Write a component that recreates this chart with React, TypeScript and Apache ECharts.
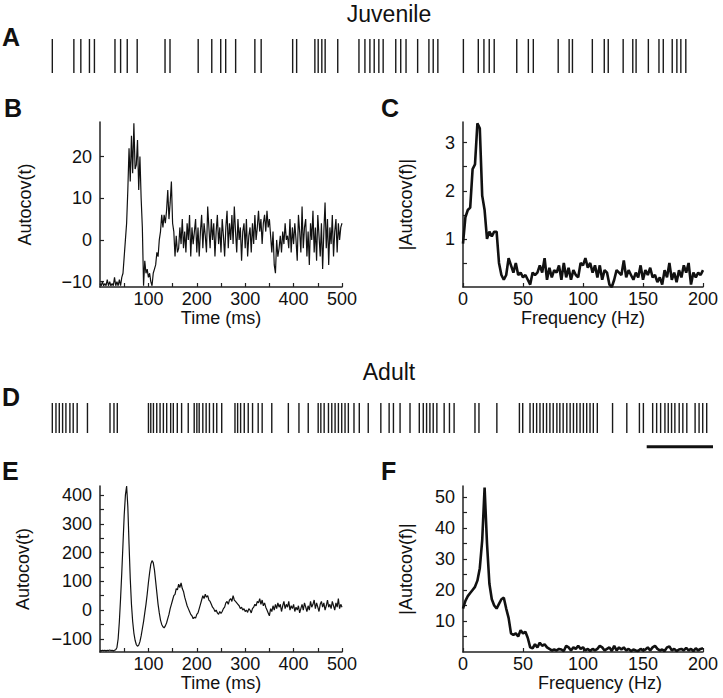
import React, { useEffect, useRef } from "react";
import * as echarts from "echarts";

// Spike times (ms) of the two example trains, shown as rasters
const spikesJuvenile = [
  7, 72, 93, 119, 134, 196, 213, 233, 263, 347, 362, 447, 488, 515, 530, 560,
  618, 637, 732, 744, 799, 809, 820, 830, 868, 932, 950, 965, 978, 992, 1005,
  1043, 1058, 1074, 1109, 1143, 1156, 1170, 1247, 1292, 1309, 1325, 1340, 1408,
  1443, 1458, 1533, 1566, 1576, 1636, 1672, 1684, 1729, 1758, 1768, 1805, 1837,
  1850, 1877, 1891, 1903, 1918,
];
const spikesAdult = [
  7, 18, 28, 38, 48, 60, 70, 82, 113, 181, 193, 203, 297, 304, 312, 322, 332,
  342, 352, 364, 372, 384, 397, 417, 435, 443, 450, 461, 471, 481, 493, 503,
  518, 558, 566, 575, 586, 598, 611, 628, 640, 669, 719, 751, 779, 809, 817,
  827, 840, 850, 860, 870, 880, 890, 900, 917, 933, 960, 998, 1023, 1036, 1056,
  1086, 1114, 1126, 1136, 1146, 1156, 1167, 1189, 1205, 1219, 1282, 1294, 1348,
  1416, 1426, 1448, 1458, 1468, 1478, 1488, 1498, 1508, 1518, 1529, 1538, 1548,
  1559, 1569, 1579, 1589, 1599, 1609, 1619, 1629, 1639, 1651, 1697, 1740, 1778,
  1790, 1818, 1830, 1842, 1855, 1865, 1875, 1885, 1898, 1909, 1921, 1946, 1958,
  1969, 1981,
];
const scaleBarMs = [1800, 2000];

// Autocovariance in time, sampled every 2.5 ms from 0 to 500 ms
const lagStepMs = 2.5;
const autocovJuvenile = [
  -10.5, -11, -10, -11, -10.5, -11, -9.5, -11, -10, -11,
  -10.5, -11, -9, -11, -10, -11, -9.5, -11, -9, -8,
  -4, 0, 4, 12, 22, 14, 25, 16, 28, 17,
  18, 24, 12, 20, 10, 3, -11, -5, -8, -7,
  -9, -8, -10, -11, -8, -7, -6, -3, -4, 0,
  2, 6, 3, 6, 4, 7, 12, 5, 9, 14,
  4, 2, -4, 1, -3, -2, 3, -1, 5, -2,
  2, -3, 4, 0, 6, -4, 3, -1, 2, 5,
  -3, 3, -4, 2, 6, -2, 4, 1, -3, 8,
  3, -2, 5, 0, 4, -4, 2, 6, -1, 3,
  -3, 5, 1, -4, 3, 7, -2, 4, 0, 6,
  -1, 8, 2, -3, 5, 0, 3, -5, 2, 4,
  -2, 5, -4, 1, 3, -3, 4, -1, 6, 0,
  3, 7, 2, 5, -1, 4, 6, 2, 7, 3,
  5, 1, -3, 2, -6, -8, 0, -4, -2, 1,
  -3, 2, -1, 4, 0, 1, -2, 5, -3, 3,
  -1, 4, 0, -5, 6, 2, -3, 8, -2, 3,
  5, -4, 2, -6, 4, 0, 7, -3, 3, -5,
  6, 1, -4, 4, -7, 2, 9, -2, 5, -6,
  3, -1, 6, -4, 2, 5, -3, 4, 0, 3,
  4,
];
const autocovAdult = [
  -140, -142, -140, -141, -140, -142, -140, -141, -139, -141,
  -140, -142, -140, -138, -130, -100, -40, 40, 130, 230,
  330, 400, 432, 360, 230, 110, 20, -40, -80, -105,
  -120, -126, -122, -110, -90, -65, -40, -10, 20, 55,
  95, 130, 160, 172, 165, 140, 100, 60, 20, -10,
  -35, -50, -58, -62, -55, -45, -30, -15, 5, 20,
  35, 50, 55, 75, 70, 90, 78, 95, 75, 65,
  45, 30, 15, 5, -5, -15, -20, -30, -25, -28,
  -15, -10, 5, 20, 35, 50, 40, 55, 45, 50,
  35, 30, 20, 10, 5, -5, 0, -10, -15, -5,
  -12, -5, 5, 10, 25, 30, 20, 35, 40, 30,
  50, 35, 30, 25, 20, 15, 5, 10, 0, 5,
  -5, 0, -8, 5, 0, -10, 5, 10, 20, 15,
  30, 25, 40, 20, 35, 15, 25, 10, 0, -10,
  -20, 5, -5, 15, 0, 20, 5, 25, 10, 20,
  -5, 15, 30, 5, 20, 10, 30, 0, 15, 5,
  20, -5, 10, 0, 15, -10, 5, 20, 0, 25,
  10, -5, 15, 0, 30, 10, 20, 35, 5, 25,
  10, -5, 20, 30, 10, 25, 0, 15, 35, 10,
  20, 5, 30, 15, 0, 25, 10, 40, 5, 20,
  10,
];

// |Autocov(f)| sampled every 2 Hz from 0 to 200 Hz
const freqStepHz = 2;
const spectrumJuvenile = [
  0.9, 1.45, 1.6, 1.65, 2.45, 2.55, 3.4, 3.3, 1.9, 1.6,
  1.0, 1.15, 1.05, 1.15, 1.15, 0.5, 0.25, 0.15, 0.25, 0.6,
  0.45, 0.3, 0.5, 0.25, 0.3, 0.2, 0.25, 0.15, 0.05, 0.3,
  0.25, 0.3, 0.45, 0.3, 0.6, 0.15, 0.4, 0.2, 0.35, 0.3,
  0.45, 0.15, 0.5, 0.2, 0.4, 0.15, 0.35, 0.25, 0.2, 0.5,
  0.45, 0.6, 0.4, 0.5, 0.3, 0.45, 0.2, 0.45, 0.15, 0.35,
  0.3, 0.05, 0.0, 0.15, 0.35, 0.3, 0.25, 0.55, 0.2, 0.35,
  0.25, 0.15, 0.3, 0.2, 0.45, 0.15, 0.35, 0.25, 0.4, 0.2,
  0.25, 0.1, 0.2, 0.05, 0.35, 0.2, 0.5, 0.15, 0.3, 0.1,
  0.35, 0.2, 0.45, 0.3, 0.5, 0.05, 0.3, 0.2, 0.3, 0.25,
  0.35,
];
const spectrumAdult = [
  14, 16.5, 18, 19, 20, 21, 23, 27, 36, 53,
  35, 22, 17, 15, 14, 15.5, 17, 17.5, 14, 11,
  6, 5.5, 6, 5, 7, 6, 6.5, 4.5, 1.5, 1.2,
  2.5, 1.5, 3, 2, 2.5, 1.5, 1, 0.5, 0.8, 0.5,
  1, 0.8, 0.3, 2, 1.5, 0.5, 1.5, 1, 2, 1,
  1.5, 0.5, 1, 0.3, 1, 0.5, 1, 2, 1.5, 0.5,
  1, 1.5, 0.3, 2, 0.5, 1.5, 0.8, 1.5, 0.5, 1,
  0.3, 0.8, 0.5, 0.3, 1, 0.5, 0.8, 1.5, 0.5, 1.5,
  2, 1, 0.5, 0.8, 0.3, 1.5, 1.8, 0.5, 1, 0.3,
  0.8, 1, 0.5, 1.3, 0.5, 1, 0.3, 1.2, 0.5, 1,
  1.2,
];

// Ticks and labels
const timeTicks = [50, 100, 150, 200, 250, 300, 350, 400, 450, 500];
const timeLabels = [100, 200, 300, 400, 500];
const freqTicks = [0, 50, 100, 150, 200];
const bYTicks = [-10, 0, 10, 20];
const cYTicks = [0.5, 1, 1.5, 2, 2.5, 3];
const cYLabels = [1, 2, 3];
const eYTicks = [-100, -50, 0, 50, 100, 150, 200, 250, 300, 350, 400];
const eYLabels = [-100, 0, 100, 200, 300, 400];
const fYTicks = [5, 10, 15, 20, 25, 30, 35, 40, 45, 50];
const fYLabels = [10, 20, 30, 40, 50];

const FONT = "'Liberation Sans', Arial, sans-serif";
const INK = "#111";
const FS = 18;

function minus(v: number) {
  return String(v).replace("-", "\u2212");
}

function axis(
  gridIndex: number,
  min: number,
  max: number,
  ticks: number[],
  labels: number[],
  opts: any = {}
) {
  return {
    type: "value",
    gridIndex,
    min,
    max,
    axisLine: { show: true, onZero: false, lineStyle: { color: "#222", width: 1.5 } },
    axisTick: { show: true, inside: true, length: 4, customValues: ticks, lineStyle: { color: "#222", width: 1.2 } },
    axisLabel: {
      show: true,
      customValues: labels,
      formatter: (v: number) => minus(v),
      fontSize: FS,
      fontFamily: FONT,
      color: INK,
      margin: opts.labelMargin ?? 3,
    },
    splitLine: { show: false },
    name: opts.name,
    nameLocation: "middle",
    nameGap: opts.nameGap ?? 20,
    nameTextStyle: { fontSize: FS, fontFamily: FONT, color: INK, padding: opts.namePadding ?? 0 },
  };
}

function hiddenAxis(gridIndex: number, min: number, max: number) {
  return { type: "value", gridIndex, min, max, show: false, splitLine: { show: false } };
}

function rasterSeries(idx: number, spikes: number[]) {
  return {
    type: "custom",
    xAxisIndex: idx,
    yAxisIndex: idx,
    data: spikes.map((t) => [t, 1]),
    encode: { x: 0, y: 1 },
    renderItem: (params: any, api: any) => {
      const t = api.value(0);
      const a = api.coord([t, 0]);
      const b = api.coord([t, 1]);
      return {
        type: "line",
        shape: { x1: a[0], y1: a[1], x2: b[0], y2: b[1] },
        style: { stroke: "#1a1a1a", lineWidth: 1.4 },
      };
    },
  };
}

function lineSeries(idx: number, step: number, values: number[], width: number) {
  return {
    type: "line",
    xAxisIndex: idx,
    yAxisIndex: idx,
    data: values.map((v, i) => [i * step, v]),
    showSymbol: false,
    symbol: "none",
    lineStyle: { color: INK, width },
    clip: true,
  };
}

function txt(text: string, x: number, y: number, size: number, bold: boolean, align = "left") {
  return {
    type: "text",
    x,
    y,
    style: {
      text,
      fontSize: size,
      fontFamily: FONT,
      fontWeight: bold ? "bold" : "normal",
      fill: INK,
      align,
      verticalAlign: "middle",
    },
  };
}

export default function App() {
  const ref = useRef<HTMLDivElement>(null);
  useEffect(() => {
    document.body.style.margin = "0";
    const chart = echarts.init(ref.current!, undefined, { renderer: "svg" });
    chart.setOption({
      animation: false,
      backgroundColor: "#fff",
      grid: [
        { left: 50, top: 39, width: 663, height: 34 },
        { left: 100, top: 122, width: 242, height: 165 },
        { left: 463, top: 122, width: 240, height: 165 },
        { left: 50, top: 403, width: 663, height: 45 },
        { left: 100, top: 486, width: 242, height: 166 },
        { left: 463, top: 486, width: 240, height: 166 },
      ],
      xAxis: [
        hiddenAxis(0, 0, 2000),
        axis(1, 0, 500, timeTicks, timeLabels, { name: "Time (ms)", nameGap: 21 }),
        axis(2, 0, 200, freqTicks, freqTicks, { name: "Frequency (Hz)", nameGap: 21 }),
        hiddenAxis(3, 0, 2000),
        axis(4, 0, 500, timeTicks, timeLabels, { name: "Time (ms)", nameGap: 21 }),
        axis(5, 0, 200, freqTicks, freqTicks, { name: "Frequency (Hz)", nameGap: 21, namePadding: [0, 0, 0, 34] }),
      ],
      yAxis: [
        hiddenAxis(0, 0, 1),
        axis(1, -11.3, 28.3, bYTicks, bYTicks, { name: "Autocov(t)", nameGap: 66, labelMargin: 8 }),
        axis(2, 0, 3.43, cYTicks, cYLabels, { name: "|Autocov(f)|", nameGap: 48, labelMargin: 8 }),
        hiddenAxis(3, -0.5, 1),
        axis(4, -146, 432, eYTicks, eYLabels, { name: "Autocov(t)", nameGap: 68, labelMargin: 8 }),
        axis(5, 0, 53.5, fYTicks, fYLabels, { name: "|Autocov(f)|", nameGap: 48, labelMargin: 8 }),
      ],
      series: [
        rasterSeries(0, spikesJuvenile),
        lineSeries(1, lagStepMs, autocovJuvenile, 1.2),
        lineSeries(2, freqStepHz, spectrumJuvenile, 2.6),
        rasterSeries(3, spikesAdult),
        {
          type: "line",
          xAxisIndex: 3,
          yAxisIndex: 3,
          data: scaleBarMs.map((t) => [t, -0.46]),
          showSymbol: false,
          symbol: "none",
          lineStyle: { color: INK, width: 3 },
          clip: false,
        },
        lineSeries(4, lagStepMs, autocovAdult, 1.2),
        lineSeries(5, freqStepHz, spectrumAdult, 2.6),
      ],
      graphic: [
        txt("Juvenile", 389, 14, 23, false, "center"),
        txt("Adult", 389, 372, 23, false, "center"),
        txt("A", 2, 37, 25, true),
        txt("B", 4, 108, 25, true),
        txt("C", 381, 108, 25, true),
        txt("D", 2, 397, 25, true),
        txt("E", 2, 471, 25, true),
        txt("F", 381, 471, 25, true),
      ],
    });
    return () => chart.dispose();
  }, []);
  return <div ref={ref} style={{ width: 723, height: 698 }} />;
}
